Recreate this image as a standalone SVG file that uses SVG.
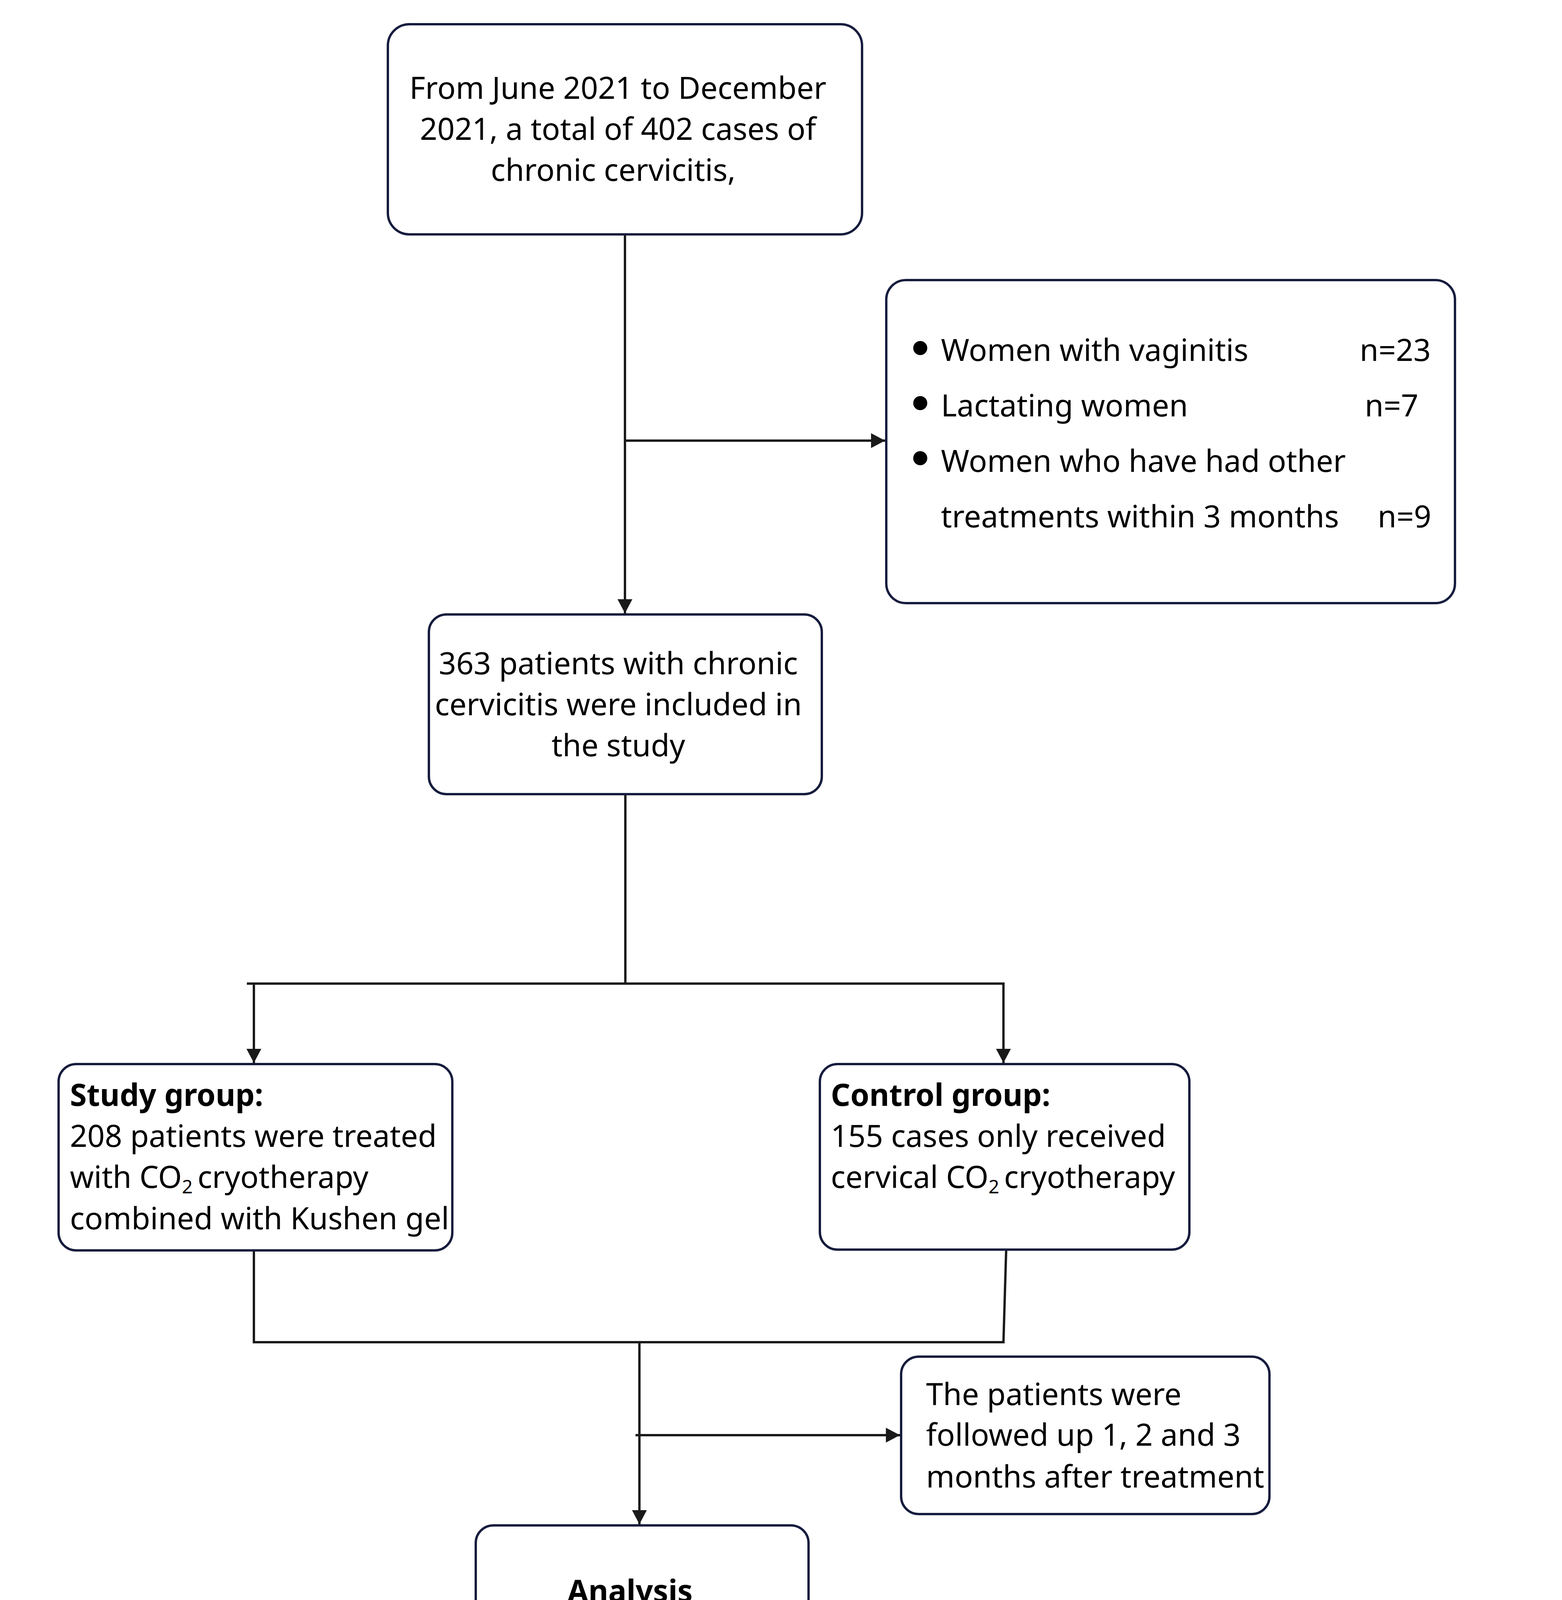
<svg xmlns="http://www.w3.org/2000/svg" width="3999" height="4344" viewBox="0 0 3999 4344">
<defs>
<style>
.box{fill:#ffffff;stroke:#161c3d;stroke-width:6}
.t{font-family:"Noto Sans","Open Sans","Liberation Sans",sans-serif;font-size:78px;fill:#000}
.b{font-weight:bold}
.c{text-anchor:middle}
.ln{fill:none;stroke:#1a1a1a;stroke-width:6}
.dot{fill:#000}
</style>
<marker id="ah" markerUnits="userSpaceOnUse" markerWidth="38" markerHeight="40" refX="36" refY="19" orient="auto">
<path d="M0,0 L36,19 L0,38 Z" fill="#1a1a1a"/>
</marker>
</defs>
<rect width="3999" height="4344" fill="#ffffff"/>

<g id="connectors">
<line class="ln" x1="1600" y1="600" x2="1600" y2="1570" marker-end="url(#ah)"/>
<line class="ln" x1="1600" y1="1128" x2="2266" y2="1128" marker-end="url(#ah)"/>
<line class="ln" x1="1601" y1="2033" x2="1601" y2="2518"/>
<line class="ln" x1="632" y1="2518" x2="2572" y2="2518"/>
<line class="ln" x1="650" y1="2518" x2="650" y2="2721" marker-end="url(#ah)"/>
<line class="ln" x1="2569" y1="2518" x2="2569" y2="2721" marker-end="url(#ah)"/>
<line class="ln" x1="650" y1="3201" x2="650" y2="3436"/>
<line class="ln" x1="2576" y1="3199" x2="2569" y2="3436"/>
<line class="ln" x1="647" y1="3436" x2="2572" y2="3436"/>
<line class="ln" x1="1637" y1="3436" x2="1637" y2="3902" marker-end="url(#ah)"/>
<line class="ln" x1="1627" y1="3674" x2="2304" y2="3674" stroke-width="7" marker-end="url(#ah)"/>
</g>

<g id="node-start">
<rect class="box" x="993" y="62" width="1214" height="538" rx="55"/>
<text class="t c" x="1582" y="253">From June 2021 to December</text>
<text class="t c" x="1582" y="358">2021, a total of 402 cases of</text>
<text class="t c" x="1570" y="463">chronic cervicitis,</text>
</g>

<g id="node-exclusion">
<rect class="box" x="2269" y="717" width="1456" height="827" rx="50"/>
<circle class="dot" cx="2356" cy="891" r="18"/>
<circle class="dot" cx="2356" cy="1032" r="18"/>
<circle class="dot" cx="2356" cy="1173" r="18"/>
<text class="t" x="2409" y="924" font-size="82">Women with vaginitis</text>
<text class="t" x="3481" y="924" font-size="82">n=23</text>
<text class="t" x="2409" y="1066" font-size="82">Lactating women</text>
<text class="t" x="3494" y="1066" font-size="82">n=7</text>
<text class="t" x="2409" y="1208" font-size="82">Women who have had other</text>
<text class="t" x="2409" y="1350" font-size="82">treatments within 3 months</text>
<text class="t" x="3527" y="1350" font-size="82">n=9</text>
</g>

<g id="node-included">
<rect class="box" x="1098" y="1573" width="1006" height="460" rx="45"/>
<text class="t c" x="1583" y="1726">363 patients with chronic</text>
<text class="t c" x="1583" y="1831">cervicitis were included in</text>
<text class="t c" x="1583" y="1936">the study</text>
</g>

<g id="node-study">
<rect class="box" x="150" y="2724" width="1008" height="477" rx="45"/>
<text class="t b" x="179" y="2831" font-size="76">Study group:</text>
<text class="t" x="179" y="2936" font-size="76.5">208 patients were treated</text>
<text class="t" x="179" y="3041" font-size="76.5">with CO<tspan font-size="48" dy="14">2 </tspan><tspan dy="-14">cryotherapy</tspan></text>
<text class="t" x="179" y="3147" font-size="76.5">combined with Kushen gel</text>
</g>

<g id="node-control">
<rect class="box" x="2099" y="2724" width="946" height="475" rx="45"/>
<text class="t b" x="2127" y="2831" font-size="76">Control group:</text>
<text class="t" x="2127" y="2936">155 cases only received</text>
<text class="t" x="2127" y="3041">cervical CO<tspan font-size="48" dy="14">2 </tspan><tspan dy="-14">cryotherapy</tspan></text>
</g>

<g id="node-followup">
<rect class="box" x="2307" y="3473" width="943" height="403" rx="45"/>
<text class="t" x="2371" y="3597" font-size="77">The patients were</text>
<text class="t" x="2371" y="3701" font-size="77">followed up 1, 2 and 3</text>
<text class="t" x="2371" y="3808" font-size="77">months after treatment</text>
</g>

<g id="node-analysis">
<rect class="box" x="1218" y="3905" width="852" height="357" rx="45"/>
<text class="t b c" x="1613" y="4101" font-size="76">Analysis</text>
</g>
</svg>
